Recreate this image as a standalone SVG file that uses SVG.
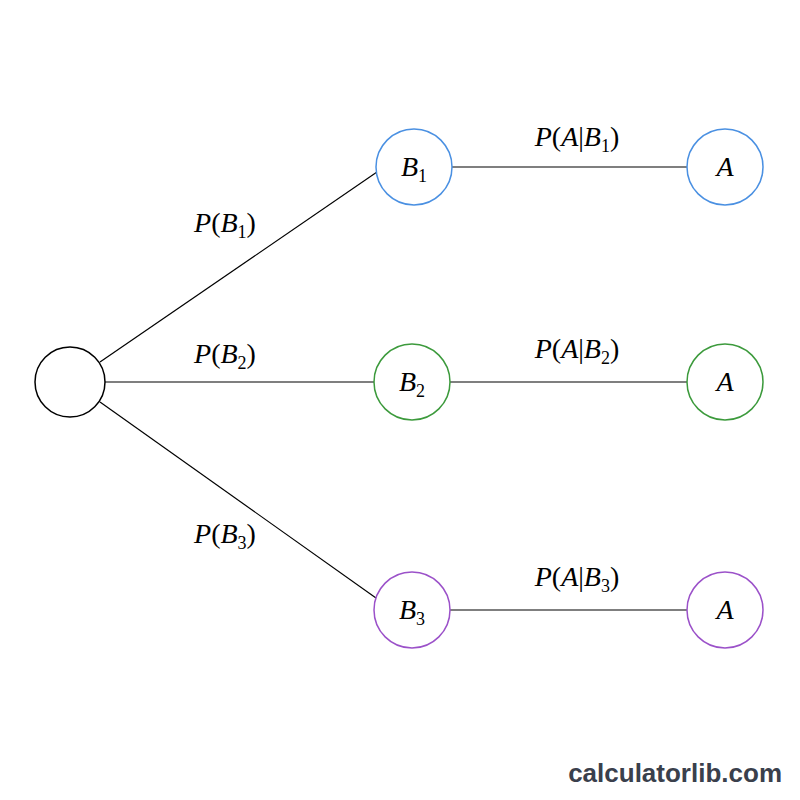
<svg xmlns="http://www.w3.org/2000/svg" width="800" height="800" viewBox="0 0 800 800">
<style>
.n{fill:#fff;stroke-width:1.5}
.e{stroke:#000;stroke-width:1.2;fill:none}
.t{font-family:"Liberation Serif",serif;font-style:italic;font-size:28px;fill:#000}
.u{font-style:normal}
.s{font-size:18px;font-style:normal}
</style>
<rect width="800" height="800" fill="#fff"/>
<g id="connectors">
<line class="e" x1="100" y1="362" x2="377" y2="172"/>
<line class="e" x1="105" y1="382" x2="374" y2="382"/>
<line class="e" x1="100" y1="402" x2="376" y2="598"/>
<line class="e" x1="452" y1="167" x2="687" y2="167"/>
<line class="e" x1="450" y1="382" x2="687" y2="382"/>
<line class="e" x1="450" y1="610" x2="687" y2="610"/>
</g>
<g id="labels" class="t" text-anchor="middle">
<text x="225" y="232">P<tspan class="u">(</tspan>B<tspan class="s" dy="6">1</tspan><tspan class="u" dy="-6">)</tspan></text>
<text x="225" y="363">P<tspan class="u">(</tspan>B<tspan class="s" dy="6">2</tspan><tspan class="u" dy="-6">)</tspan></text>
<text x="225" y="543">P<tspan class="u">(</tspan>B<tspan class="s" dy="6">3</tspan><tspan class="u" dy="-6">)</tspan></text>
<text x="577" y="146">P<tspan class="u">(</tspan>A<tspan class="u">|</tspan>B<tspan class="s" dy="6">1</tspan><tspan class="u" dy="-6">)</tspan></text>
<text x="577" y="358">P<tspan class="u">(</tspan>A<tspan class="u">|</tspan>B<tspan class="s" dy="6">2</tspan><tspan class="u" dy="-6">)</tspan></text>
<text x="577" y="586">P<tspan class="u">(</tspan>A<tspan class="u">|</tspan>B<tspan class="s" dy="6">3</tspan><tspan class="u" dy="-6">)</tspan></text>
</g>
<g id="root"><circle class="n" cx="70" cy="382" r="35" stroke="#000"/></g>
<g id="B1"><circle class="n" cx="414" cy="167" r="38" stroke="#4a90e2"/><text class="t" x="414" y="176" text-anchor="middle">B<tspan class="s" dy="6">1</tspan></text></g>
<g id="B2"><circle class="n" cx="412" cy="382" r="38" stroke="#3c9a3c"/><text class="t" x="412" y="391" text-anchor="middle">B<tspan class="s" dy="6">2</tspan></text></g>
<g id="B3"><circle class="n" cx="412" cy="610" r="38" stroke="#9b51c9"/><text class="t" x="412" y="619" text-anchor="middle">B<tspan class="s" dy="6">3</tspan></text></g>
<g id="A1"><circle class="n" cx="725" cy="167" r="38" stroke="#4a90e2"/><text class="t" x="725" y="176" text-anchor="middle">A</text></g>
<g id="A2"><circle class="n" cx="725" cy="382" r="38" stroke="#3c9a3c"/><text class="t" x="725" y="391" text-anchor="middle">A</text></g>
<g id="A3"><circle class="n" cx="725" cy="610" r="38" stroke="#9b51c9"/><text class="t" x="725" y="619" text-anchor="middle">A</text></g>
<text x="782" y="782" text-anchor="end" font-family="Liberation Sans,sans-serif" font-weight="bold" font-size="26" fill="#3a404c">calculatorlib.com</text>
</svg>
